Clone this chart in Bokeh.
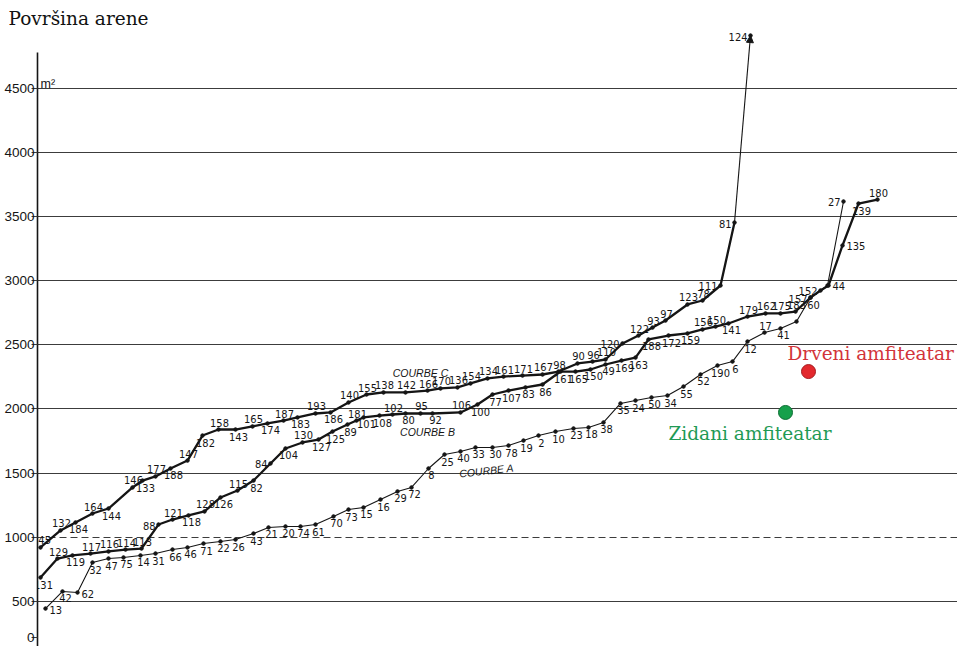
from bokeh.plotting import figure
from bokeh.models import (Range1d, FixedTicker, Label, Arrow, NormalHead,
                          ColumnDataSource, Grid)
from bokeh.core.properties import value
from bokeh.embed import file_html
from bokeh.resources import INLINE

# ---------------- data (x = position along the ranking, y = arena area in m2) ----
a_ids = ["13", "42", "62", "32", "47", "75", "14", "31", "66", "46",
         "71", "22", "26", "43", "21", "20", "74", "61", "70", "73",
         "15", "16", "29", "72", "8", "25", "40", "33", "30", "78",
         "19", "2", "10", "23", "18", "38", "35", "24", "50", "34",
         "55", "52", "190", "6", "12", "17", "41", "", "60", "",
         "27"]
a_x = [8, 25, 40, 55, 71, 86, 103, 118, 135, 150,
       166, 183, 198, 216, 231, 248, 263, 278, 296, 311,
       326, 343, 360, 374, 391, 407, 423, 438, 455, 471,
       486, 501, 518, 536, 551, 566, 583, 598, 614, 630,
       646, 663, 680, 695, 710, 727, 743, 759, 773, 790,
       806]
a_area = [444, 577, 569, 803, 834, 842, 858, 873, 904, 920,
          951, 967, 982, 1029, 1076, 1084, 1084, 1099, 1162, 1216,
          1232, 1294, 1357, 1388, 1536, 1645, 1669, 1700, 1700, 1715,
          1754, 1793, 1824, 1848, 1856, 1895, 2043, 2066, 2090, 2105,
          2175, 2269, 2339, 2370, 2526, 2596, 2628, 2682, 2869, 2963,
          3618]

b_ids = ["131", "129", "119", "117", "116", "114", "113", "88", "121", "118",
         "128", "126", "115", "82", "84", "104", "130", "127", "125", "89",
         "181", "101", "108", "102", "80", "95", "92", "106", "100", "77",
         "107", "83", "86", "161", "165", "150", "49", "169", "163", "188",
         "172", "159", "156", "150", "141", "179", "162", "175", "183", "157",
         "152", "44", "135", "139", "180"]
b_x = [3, 20, 35, 53, 71, 88, 104, 121, 135, 151,
       167, 183, 200, 216, 233, 248, 265, 281, 295, 310,
       319, 326, 342, 355, 368, 383, 395, 423, 440, 455,
       471, 488, 505, 523, 538, 553, 568, 584, 598, 611,
       631, 650, 665, 678, 691, 710, 728, 743, 758, 773,
       783, 791, 805, 821, 840]
b_area = [686, 834, 858, 873, 889, 904, 912, 1099, 1138, 1170,
          1201, 1310, 1364, 1442, 1575, 1692, 1739, 1762, 1824, 1879,
          1910, 1934, 1949, 1957, 1965, 1965, 1965, 1973, 2035, 2113,
          2144, 2168, 2191, 2292, 2292, 2308, 2347, 2378, 2401, 2542,
          2573, 2589, 2620, 2643, 2667, 2721, 2745, 2745, 2760, 2869,
          2924, 2963, 3275, 3602, 3633]

c_ids = ["145", "132", "184", "164", "144", "146", "133", "177", "188", "147",
         "182", "158", "143", "165", "174", "187", "183", "193", "186", "140",
         "155", "138", "142", "166", "170", "136", "154", "134", "161", "171",
         "167", "98", "90", "96", "110", "120", "122", "93", "97", "123",
         "78", "111", "81", "124"]
c_x = [3, 23, 38, 55, 71, 95, 105, 118, 133, 150,
       165, 181, 198, 215, 230, 246, 260, 278, 293, 311,
       329, 346, 368, 390, 403, 420, 433, 450, 466, 485,
       505, 521, 540, 555, 568, 585, 601, 615, 628, 650,
       665, 683, 697, 713]
c_area = [920, 1053, 1115, 1185, 1224, 1388, 1442, 1474, 1536, 1598,
          1793, 1840, 1840, 1864, 1887, 1910, 1934, 1965, 1973, 2051,
          2113, 2129, 2129, 2144, 2160, 2168, 2199, 2238, 2253, 2261,
          2269, 2292, 2355, 2370, 2386, 2511, 2573, 2635, 2690, 2815,
          2846, 2963, 3454, 4912]

site_names = ["Drveni amfiteatar", "Zidani amfiteatar"]
site_x = [771, 748]
site_area = [2292, 1973]

y_ticks = [500, 1000, 1500, 2000, 2500, 3000, 3500, 4000, 4500]
# in the scanned source the "0" of the axis is printed just above the crop line
origin_tick = 220
curve_names = ["COURBE A", "COURBE B", "COURBE C"]

# ---------------- label placement (layout only) ----------------
a_side = "rbr" + "b" * 42 + "abnbnl"
b_side = "babaaaalab" + "abablbabbb" + "abbabababb" + "b" * 10 + "bbaabaaaal" + "lrrba"
c_side = "aababababababababab" + "a" * 16 + "laaaaalll"

OFFS = {"a": (1, -3, "center", "bottom"),
        "b": (3, 3, "center", "top"),
        "l": (-3, 1, "right", "middle"),
        "r": (4, 1, "left", "middle"),
        "n": (0, 0, "center", "middle")}


def label_source(ids, xs, ys, sides):
    d = dict(x=xs, y=ys, t=ids, dx=[], dy=[], al=[], bl=[])
    for s in sides:
        dx, dy, al, bl = OFFS[s]
        d["dx"].append(dx)
        d["dy"].append(dy)
        d["al"].append(al)
        d["bl"].append(bl)
    return ColumnDataSource(d)


NUM_FONT = value("'Liberation Sans Narrow', 'DejaVu Sans Condensed', sans-serif")
INK = "#151515"

p = figure(width=957, height=646, output_backend="svg", toolbar_location=None,
           x_range=Range1d(0, 920), y_range=Range1d(148, 4967),
           x_axis_location=None, min_border_left=37, min_border_right=0,
           min_border_top=28, min_border_bottom=0,
           title="Površina arene")
p.outline_line_color = None
p.background_fill_color = "white"
p.title.text_font = "DejaVu Serif"
p.title.text_font_size = "18.5px"
p.title.text_font_style = "normal"
p.title.text_color = "#111111"
p.title.standoff = 0
p.title.offset = -29

# grid
p.xgrid.visible = False
p.ygrid.ticker = FixedTicker(ticks=[t for t in y_ticks if t != 1000])
p.ygrid.grid_line_color = "#3c3c3c"
p.ygrid.grid_line_width = 1.2
dash_grid = Grid(dimension=1, ticker=FixedTicker(ticks=[1000]),
                 grid_line_color="#3c3c3c", grid_line_width=1.2,
                 grid_line_dash="7 4")
p.add_layout(dash_grid)

# y axis
ax = p.yaxis[0]
ax.ticker = FixedTicker(ticks=[origin_tick] + y_ticks)
ax.major_label_overrides = {origin_tick: "0"}
ax.bounds = (0, 4780)
ax.axis_line_color = INK
ax.axis_line_width = 1.6
ax.major_tick_out = 6
ax.major_tick_in = 0
ax.major_tick_line_color = "#3c3c3c"
ax.minor_tick_line_color = None
ax.major_label_standoff = -3
ax.major_label_text_font = "Liberation Sans"
ax.major_label_text_font_size = "13.5px"
ax.major_label_text_color = INK

p.add_layout(Label(x=0, y=4500, x_offset=3, y_offset=-3, text="m²",
                   text_font="Liberation Sans", text_font_size="12.5px",
                   text_color=INK, text_baseline="bottom"))

# curves
p.line(a_x, a_area, line_width=1.1, line_color=INK)
p.line(b_x, b_area, line_width=2.3, line_color=INK)
p.line(c_x[:-1], c_area[:-1], line_width=2.3, line_color=INK)
p.add_layout(Arrow(end=NormalHead(size=7, fill_color=INK, line_color=INK),
                   x_start=c_x[-2], y_start=c_area[-2],
                   x_end=c_x[-1], y_end=c_area[-1],
                   line_width=1.1, line_color=INK))

for xs, ys in ((a_x, a_area), (b_x, b_area), (c_x, c_area)):
    p.scatter(xs, ys, size=3.5, color=INK)

for ids, xs, ys, sides in ((a_ids, a_x, a_area, a_side),
                           (b_ids, b_x, b_area, b_side),
                           (c_ids, c_x, c_area, c_side)):
    src = label_source(ids, xs, ys, sides)
    p.text(x="x", y="y", text="t", source=src, x_offset="dx", y_offset="dy",
           text_align="al", text_baseline="bl", text_font=NUM_FONT,
           text_font_size="11px", text_color=INK)

# curve names
p.add_layout(Label(x=383, y=2284, text=curve_names[2], text_font="Liberation Sans",
                   text_font_style="italic", text_font_size="10.5px",
                   text_color=INK, text_align="center", text_baseline="middle"))
p.add_layout(Label(x=390, y=1824, text=curve_names[1], text_font="Liberation Sans",
                   text_font_style="italic", text_font_size="10.5px",
                   text_color=INK, text_align="center", text_baseline="middle"))
p.add_layout(Label(x=449, y=1520, text=curve_names[0], text_font="Liberation Sans",
                   text_font_style="italic", text_font_size="10.5px", angle=0.11,
                   text_color=INK, text_align="center", text_baseline="middle"))

# the two amphitheatres
site_fill = ["#e3282d", "#16a04b"]
site_line = ["#a51b1f", "#0d6e33"]
site_text = ["#d2343a", "#1f9a55"]
p.scatter(site_x, site_area, size=14, fill_color=site_fill, line_color=site_line,
          line_width=1)
p.add_layout(Label(x=site_x[0], y=site_area[0], x_offset=-21, y_offset=18,
                   text=site_names[0], text_font="DejaVu Serif",
                   text_font_size="18.5px", text_color=site_text[0],
                   text_baseline="middle"))
p.add_layout(Label(x=site_x[1], y=site_area[1], x_offset=-117, y_offset=-21,
                   text=site_names[1], text_font="DejaVu Serif",
                   text_font_size="18.5px", text_color=site_text[1],
                   text_baseline="middle"))

open("out.html", "w").write(file_html(p, INLINE))
